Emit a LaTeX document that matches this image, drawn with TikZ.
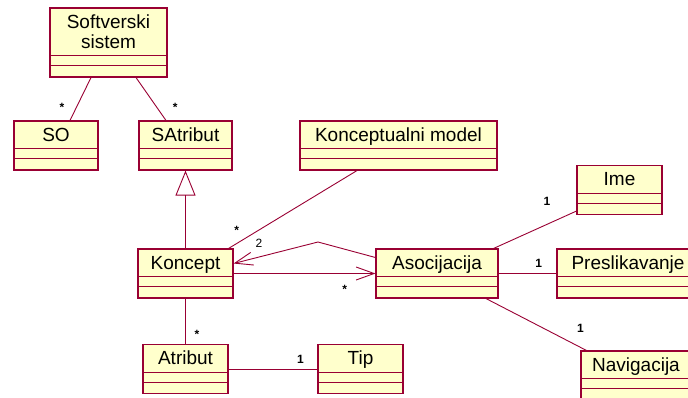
\documentclass[tikz,border=0pt]{standalone}
\usepackage{fontspec}
\setmainfont{Liberation Sans}
\usepackage{xcolor}
\usetikzlibrary{arrows.meta,positioning}
\definecolor{umlrub}{HTML}{990033}
\definecolor{umlzuta}{HTML}{FFFFCC}

\begin{document}
\begin{tikzpicture}[
    x=1pt,
    y=-1pt,
    font=\fontsize{19}{20}\selectfont,
    klasa/.style={
        rectangle,
        draw=umlrub,
        fill=umlzuta,
        line width=1.1pt,
        inner xsep=0pt,
        inner ysep=0pt,
        text height=20pt,
        text depth=29pt,
        align=center,
        append after command={
            ([yshift=22pt]\tikzlastnode.south west) edge[pregrada] ([yshift=22pt]\tikzlastnode.south east)
            ([yshift=12pt]\tikzlastnode.south west) edge[pregrada] ([yshift=12pt]\tikzlastnode.south east)
        }
    },
    pregrada/.style={
        draw=umlrub,
        line width=1.1pt
    },
    veza/.style={
        draw=umlrub,
        line width=0.9pt
    },
    nasledj/.style={
        veza,
        -{Triangle[open,length=25pt,width=20pt]}
    },
    smer/.style={
        veza,
        -{Straight Barb[length=18pt,width=13pt]}
    },
    broj/.style={
        font=\fontsize{12}{12}\selectfont,
        inner sep=0pt
    },
    kard/.style={
        broj,
        font=\fontsize{12}{12}\selectfont\bfseries
    },
    zvezda/.style={
        kard,
        yshift=-2.5pt
    }
]
\path[use as bounding box,clip] (0,0) rectangle (688,397);

% Klase
\node [klasa, minimum width=117pt, text height=40pt] (sistem) at (108.5,42.5) {Softverski\\sistem};
\node [klasa, minimum width=84pt] (so) at (56,145.5) {SO};
\node [klasa, minimum width=93pt, right of=so, node distance=129.5pt] (satribut) {SAtribut};
\node [klasa, minimum width=197pt, right of=satribut, node distance=213pt] (kmodel) {Konceptualni model};
\node [klasa, minimum width=95pt, below of=satribut, node distance=128pt] (koncept) {Koncept};
\node [klasa, minimum width=122pt, right of=koncept, node distance=251.5pt] (asocijacija) {Asocijacija};
\node [klasa, minimum width=142pt, right of=asocijacija, node distance=191pt] (preslikavanje) {Preslikavanje};
\node [klasa, minimum width=85pt] (ime) at (619.5,190) {Ime};
\node [klasa, minimum width=110pt] (navigacija) at (636,375.5) {Navigacija};
\node [klasa, minimum width=85pt, below of=koncept, node distance=95.5pt] (atribut) {Atribut};
\node [klasa, minimum width=85pt, right of=atribut, node distance=175pt] (tip) {Tip};
\coordinate (pregib) at (318,242);

% Veze
\path [veza] ([xshift=-17.5pt]sistem.south) -- node[zvezda, pos=0.64, xshift=-15.5pt] {*} ([xshift=14pt]so.north);
\path [veza] ([xshift=27.5pt]sistem.south) -- node[zvezda, pos=0.64, xshift=20pt] {*} ([xshift=-19.5pt]satribut.north);
\path [nasledj] (koncept) -- (satribut);
\path [veza] ([xshift=-41.5pt]kmodel.south) -- node[zvezda, pos=0.734, xshift=-26pt] {*} ([xshift=-5pt]koncept.north east);
\path [smer] ([yshift=16pt]asocijacija.west) -- (pregib) -- node[broj, pos=0.7, yshift=14pt] {2} ([yshift=10pt]koncept.east);
\path [smer] (koncept) -- node[zvezda, pos=0.783, yshift=-13.5pt] {*} (asocijacija);
\path [veza] ([xshift=-5pt]asocijacija.north east) -- node[kard, pos=0.643, yshift=23pt] {1} ([yshift=4pt]ime.south west);
\path [veza] (asocijacija) -- node[kard, pos=0.695, yshift=10.5pt] {1} (preslikavanje);
\path [veza] ([xshift=49pt]asocijacija.south) -- node[kard, pos=0.94, yshift=19pt] {1} ([xshift=6pt]navigacija.north west);
\path [veza] (koncept) -- node[zvezda, pos=0.74, xshift=11.5pt] {*} (atribut);
\path [veza] (atribut) -- node[kard, pos=0.81, yshift=10pt] {1} (tip);

\end{tikzpicture}
\end{document}
